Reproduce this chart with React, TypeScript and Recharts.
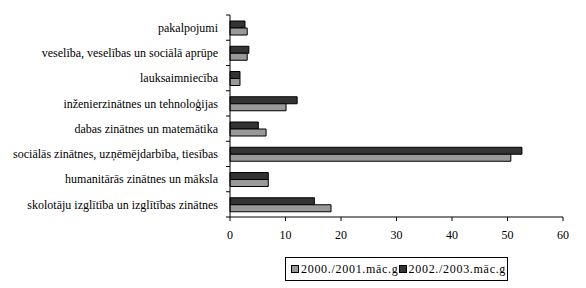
import React from 'react';
import { BarChart, Bar, XAxis, YAxis } from 'recharts';

const categories = [
  'pakalpojumi',
  'veselība, veselības un sociālā aprūpe',
  'lauksaimniecība',
  'inženierzinātnes un tehnoloģijas',
  'dabas zinātnes un matemātika',
  'sociālās zinātnes, uzņēmējdarbība, tiesības',
  'humanitārās zinātnes un māksla',
  'skolotāju izglītība un izglītības zinātnes',
];

const series2000 = [3.1, 3.1, 1.8, 10.1, 6.5, 50.6, 6.9, 18.2];
const series2002 = [2.7, 3.4, 1.8, 12.1, 5.1, 52.6, 6.9, 15.2];

const seriesNames = ['2000./2001.māc.g', '2002./2003.māc.g'];
const xTicks = [0, 10, 20, 30, 40, 50, 60];

const data = categories.map((name, i) => ({
  name,
  y2000: series2000[i],
  y2002: series2002[i],
}));

const FONT = 'Liberation Serif';
const GRAY = '#999999';
const DARK = '#333333';

function CategoryTick(props: any) {
  const { x, y, payload, index } = props;
  const axisX = x + 12;
  const half = payload && payload.offset ? payload.offset : 12.6;
  return (
    <g>
      <text x={x} y={y} dy="0.355em" textAnchor="end" fill="#000" fontFamily={FONT} fontSize={12}>
        {payload.value}
      </text>
      {index === 0 && (
        <line x1={axisX - 4} x2={axisX} y1={y - half} y2={y - half} stroke="#000" />
      )}
      <line x1={axisX - 4} x2={axisX} y1={y + half} y2={y + half} stroke="#000" />
    </g>
  );
}

function NumberTick(props: any) {
  const { x, y, payload } = props;
  return (
    <text x={x} y={y} dy="0.71em" textAnchor="middle" fill="#000" fontFamily={FONT} fontSize={12}>
      {payload.value}
    </text>
  );
}

export default function App() {
  return (
    <div style={{ position: 'absolute', left: 0, top: 0, width: 586, height: 288, background: '#fff', fontFamily: FONT }}>
      <BarChart
        width={586}
        height={288}
        data={data}
        layout="vertical"
        margin={{ top: 15, right: 23, bottom: 41, left: 0 }}
        barGap={0}
      >
        <XAxis
          type="number"
          domain={[0, 60]}
          ticks={xTicks}
          tickSize={4}
          tickMargin={9}
          stroke="#000"
          tick={<NumberTick />}
          height={30}
        />
        <YAxis
          type="category"
          dataKey="name"
          width={230}
          tickLine={false}
          tickSize={4}
          tickMargin={8}
          stroke="#000"
          interval={0}
          tick={<CategoryTick />}
        />
        <Bar dataKey="y2002" name={seriesNames[1]} fill={DARK} stroke="#000" strokeWidth={1} barSize={7} isAnimationActive={false} />
        <Bar dataKey="y2000" name={seriesNames[0]} fill={GRAY} stroke="#000" strokeWidth={1} barSize={7} isAnimationActive={false} />
      </BarChart>
      <div
        style={{
          position: 'absolute',
          left: 285,
          top: 257,
          width: 223,
          height: 24,
          boxSizing: 'border-box',
          border: '1px solid #000',
          overflow: 'hidden',
          whiteSpace: 'nowrap',
          display: 'flex',
          alignItems: 'center',
          fontFamily: FONT,
          fontSize: 12,
          letterSpacing: 0.7,
          paddingLeft: 5,
        }}
      >
        <span style={{ display: 'inline-block', width: 6, height: 6, background: GRAY, border: '1px solid #000', marginRight: 2 }} />
        <span>{seriesNames[0]}</span>
        <span style={{ display: 'inline-block', width: 6, height: 6, background: DARK, border: '1px solid #000', marginRight: 2 }} />
        <span>{seriesNames[1]}</span>
      </div>
    </div>
  );
}
